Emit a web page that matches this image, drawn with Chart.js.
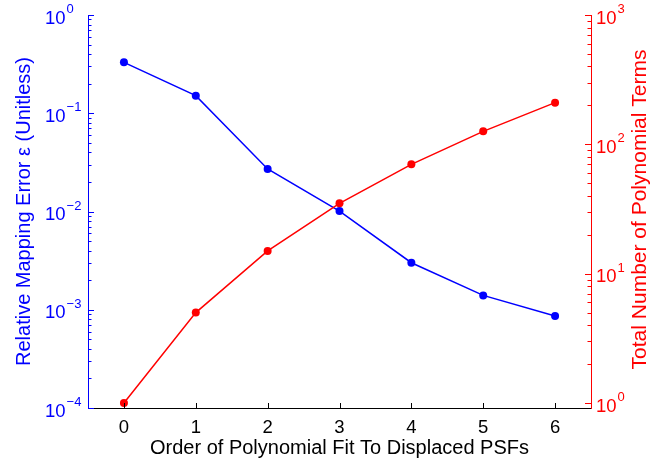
<!DOCTYPE html>
<html>
<head>
<title>Polynomial fit order</title>
<script src="https://cdn.jsdelivr.net/npm/chart.js"></script>
<style>
  html, body { margin: 0; padding: 0; background: #fff; }
  #wrap { width: 672px; height: 466px; }
</style>
</head>
<body>
<div id="wrap"><canvas id="fitChart"></canvas></div>
<script>
    const orders = [0, 1, 2, 3, 4, 5, 6];
    const mappingError = [0.33, 0.151, 0.0271, 0.0101, 0.00301, 0.00140, 0.000863];
    const termCount = [1, 5, 15, 35, 70, 126, 210];
    const errorDecades = [-4, -3, -2, -1, 0];
    const termDecades = [0, 1, 2, 3];

    const FONT = '"Liberation Sans", Arial, Helvetica, sans-serif';
    const BLUE = '#0000ff';
    const RED = '#ff0000';
    const TERMS_TITLE = 'Total Number of Polynomial Terms';

    // MATLAB-style inward tick marks and 10^n labels on both log axes,
    // plus the right-hand axis title which reads bottom-to-top like the left one
    const logAxisTicks = {
        id: 'logAxisTicks',
        afterDraw(chart) {
            const ctx = chart.ctx;
            const bottom = chart.chartArea.bottom;
            ctx.save();
            ctx.lineWidth = 1;

            ctx.strokeStyle = '#000';
            const xs = chart.scales.x;
            orders.forEach(v => {
                const px = Math.round(xs.getPixelForValue(v)) + 0.5;
                ctx.beginPath();
                ctx.moveTo(px, bottom);
                ctx.lineTo(px, bottom - 5);
                ctx.stroke();
            });

            drawLogAxis(ctx, chart.scales.yErr, errorDecades, 'left', BLUE, 45);
            drawLogAxis(ctx, chart.scales.yTerms, termDecades, 'right', RED, 596);

            const yt = chart.scales.yTerms;
            ctx.translate(yt.right - 32, (yt.top + yt.bottom) / 2 - 2);
            ctx.rotate(-Math.PI / 2);
            ctx.fillStyle = RED;
            ctx.font = '21px ' + FONT;
            ctx.textAlign = 'center';
            ctx.textBaseline = 'middle';
            ctx.fillText(TERMS_TITLE, 0, 0);
            ctx.restore();
        }
    };

    function drawLogAxis(ctx, scale, decades, side, color, labelX) {
        const x0 = side === 'left' ? scale.right : scale.left;
        const dir = side === 'left' ? 1 : -1;
        ctx.strokeStyle = color;
        ctx.fillStyle = color;
        decades.forEach(d => {
            for (let m = 1; m <= 9; m++) {
                const v = m * Math.pow(10, d);
                if (v < scale.min * 0.999 || v > scale.max * 1.001) continue;
                const y = Math.round(scale.getPixelForValue(v)) + 0.5;
                const len = m === 1 ? 6 : 3.5;
                ctx.beginPath();
                ctx.moveTo(x0, y);
                ctx.lineTo(x0 + dir * len, y);
                ctx.stroke();
            }
            const ty = scale.getPixelForValue(Math.pow(10, d));
            ctx.textAlign = 'left';
            ctx.textBaseline = 'alphabetic';
            ctx.font = '18.5px ' + FONT;
            ctx.fillText('10', labelX, ty + 8.5);
            const w = ctx.measureText('10').width;
            ctx.font = '13px ' + FONT;
            const exp = d < 0 ? '\u2212' + (-d) : String(d);
            ctx.fillText(exp, labelX + w + 1, ty - 2);
        });
    }

    const ctx = document.getElementById('fitChart').getContext('2d');
    const fitChart = new Chart(ctx, {
        type: 'line',
        data: {
            datasets: [{
                label: 'Relative Mapping Error',
                data: orders.map((o, i) => ({ x: o, y: mappingError[i] })),
                yAxisID: 'yErr',
                borderColor: BLUE,
                backgroundColor: BLUE,
                pointBackgroundColor: BLUE,
                borderWidth: 1.5,
                pointRadius: 4,
                pointBorderWidth: 0,
                order: 1
            }, {
                label: TERMS_TITLE,
                data: orders.map((o, i) => ({ x: o, y: termCount[i] })),
                yAxisID: 'yTerms',
                borderColor: RED,
                backgroundColor: RED,
                pointBackgroundColor: RED,
                borderWidth: 1.5,
                pointRadius: 4,
                pointBorderWidth: 0,
                order: 0
            }]
        },
        options: {
            responsive: true,
            maintainAspectRatio: false,
            animation: false,
            layout: { padding: { top: 15, left: 0, right: 0, bottom: 0 } },
            plugins: {
                legend: { display: false },
                tooltip: { enabled: false }
            },
            elements: { line: { tension: 0 } },
            scales: {
                x: {
                    type: 'linear',
                    min: -0.5,
                    max: 6.5,
                    afterBuildTicks: s => { s.ticks = orders.map(v => ({ value: v })); },
                    afterFit: s => { s.height = 58; },
                    grid: { display: false },
                    border: { display: true, color: '#000', width: 1 },
                    ticks: {
                        color: '#000',
                        padding: 1,
                        font: { family: FONT, size: 18.5 }
                    },
                    title: {
                        display: true,
                        text: 'Order of Polynomial Fit To Displaced PSFs',
                        color: '#000',
                        font: { family: FONT, size: 20 },
                        padding: { top: 0, bottom: 6 }
                    }
                },
                yErr: {
                    type: 'logarithmic',
                    position: 'left',
                    min: 1e-4,
                    max: 1,
                    afterFit: s => { s.width = 88; },
                    grid: { display: false },
                    border: { display: true, color: BLUE, width: 1 },
                    ticks: { display: false },
                    title: {
                        display: true,
                        text: 'Relative Mapping Error \u03b5 (Unitless)',
                        color: BLUE,
                        font: { family: FONT, size: 20 },
                        padding: { top: 12, bottom: 0 }
                    }
                },
                yTerms: {
                    type: 'logarithmic',
                    position: 'right',
                    min: 0.915,
                    max: 1000,
                    afterFit: s => { s.width = 81; },
                    grid: { display: false },
                    border: { display: true, color: RED, width: 1 },
                    ticks: { display: false },
                    title: { display: false }
                }
            }
        },
        plugins: [logAxisTicks]
    });
</script>
</body>
</html>
